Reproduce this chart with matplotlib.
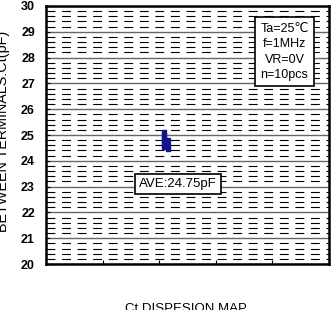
import matplotlib
matplotlib.use("Agg")
from matplotlib import pyplot as plt
from matplotlib.ticker import MultipleLocator

plt.rcParams["font.family"] = ["Liberation Sans", "DejaVu Sans"]

# measured Ct values (pF), 10 pcs
x_pos = [2.08, 2.08, 2.08, 2.08, 2.08, 2.08, 2.08, 2.15, 2.15, 2.15]
ct_values = [25.1, 25.0, 24.9, 24.8, 24.7, 24.6, 24.55, 24.8, 24.6, 24.45]
conditions = ["Ta=25\u2103", "f=1MHz", "VR=0V", "n=10pcs"]
ave_label = "AVE:24.75pF"
y_label = "BETWEEN TERMINALS:Ct(pF)"
title = "Ct DISPESION MAP"

fig = plt.figure(figsize=(3.31, 3.10), dpi=100)
ax = fig.add_axes([0.139, 0.148, 0.855, 0.833])

ax.set_xlim(0, 5)
ax.set_ylim(20, 30)
ax.xaxis.set_major_locator(MultipleLocator(1))
ax.yaxis.set_major_locator(MultipleLocator(1))
ax.yaxis.set_minor_locator(MultipleLocator(0.2))

# grid: solid major, dashed minor
ax.grid(which="major", axis="y", color="#666666", linestyle="-", linewidth=1.0)
ax.grid(which="minor", axis="y", color="black", linestyle=(0, (8, 6)), linewidth=0.8)
ax.set_axisbelow(True)

ax.plot(x_pos, ct_values, linestyle="none", marker="s", markersize=3.2,
        color="#14148c", zorder=3)

ax.set_xticklabels([])
ax.tick_params(axis="x", which="both", direction="in", length=3, width=0.8)
ax.tick_params(axis="y", which="major", direction="in", length=3, labelsize=9, pad=8)
ax.tick_params(axis="y", which="minor", length=0)
for lbl in ax.get_yticklabels():
    lbl.set_fontweight("bold")
for sp in ax.spines.values():
    sp.set_linewidth(1.8)

# conditions box
ax.text(0.843, 0.822, "\n".join(conditions), transform=ax.transAxes,
        ha="center", va="center", fontsize=9, linespacing=1.4,
        bbox=dict(boxstyle="square,pad=0.4", facecolor="white", edgecolor="black", linewidth=1.2),
        zorder=5)

# average box
ax.text(0.466, 0.312, ave_label, transform=ax.transAxes,
        ha="center", va="center", fontsize=9.5,
        bbox=dict(boxstyle="square,pad=0.3", facecolor="white", edgecolor="black", linewidth=1.2),
        zorder=5)

fig.text(0.008, 0.577, y_label, rotation=90, ha="center", va="center", fontsize=10.4)
fig.text(0.562, 0.0226, title, ha="center", va="top", fontsize=9.5)

fig.savefig("out.png", dpi=100, facecolor="white")
